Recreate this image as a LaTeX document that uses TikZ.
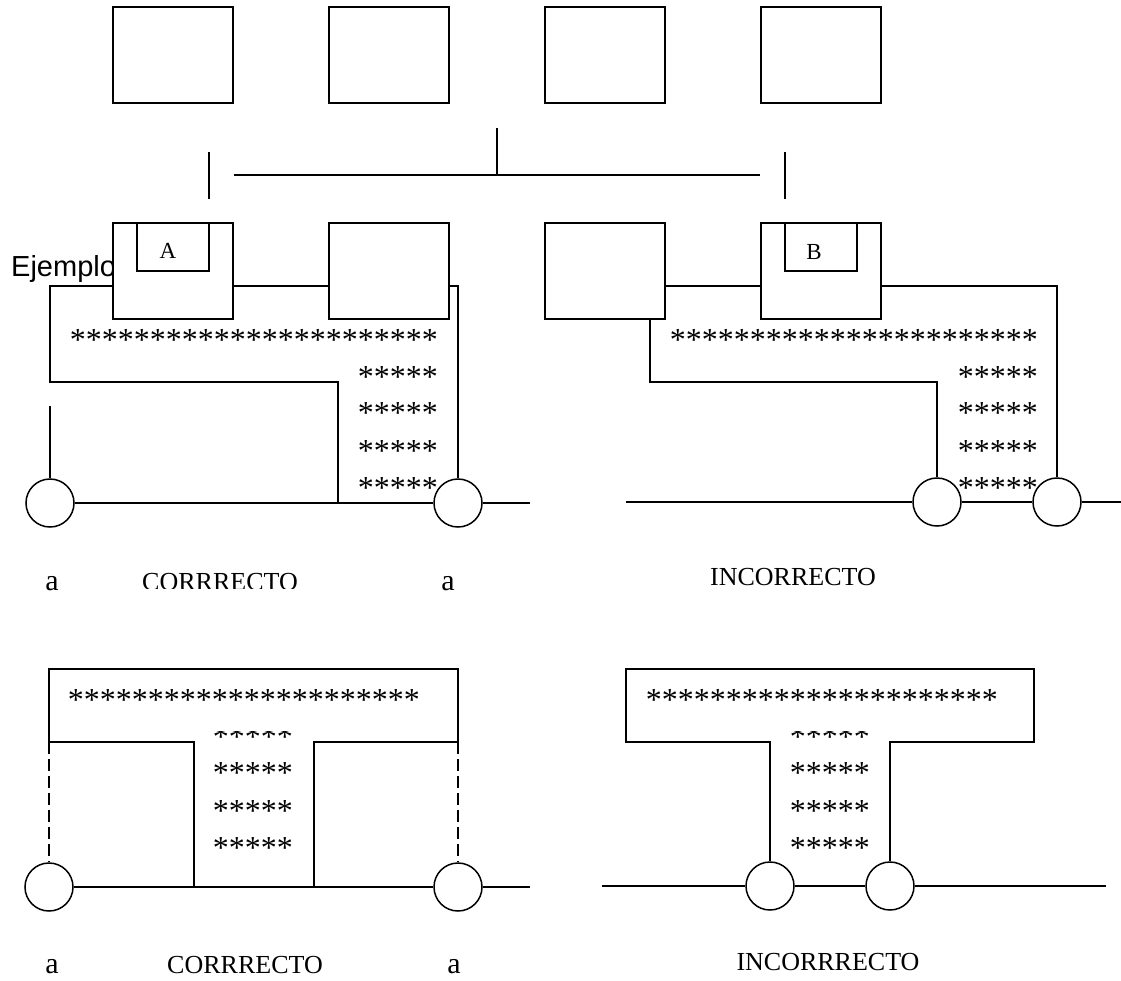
\documentclass[tikz,border=0pt]{standalone}
\usepackage{fontspec}
\setmainfont{Liberation Serif}
\newfontfamily\sansf{Liberation Sans}
\begin{document}
\begin{tikzpicture}[x=1pt,y=-1pt,
  ln/.style={line width=1.5pt},
  bx/.style={draw, fill=white, line width=1.5pt, minimum width=120pt, minimum height=96pt, inner sep=0pt},
  ibx/.style={draw, line width=1.5pt, minimum width=72pt, minimum height=48pt, inner sep=0pt},
  rc/.style={draw, circle, line width=1.5pt, minimum size=48pt, inner sep=0pt},
  lbl/.style={font=\fontsize{26}{30}\selectfont, inner sep=0pt, anchor=base},
  sml/.style={font=\fontsize{30}{34}\selectfont, inner sep=0pt, anchor=base},
  ltr/.style={font=\fontsize{23}{27}\selectfont, inner sep=0pt, anchor=base},
  st/.style={font=\fontsize{32}{36}\selectfont, inner sep=0pt, anchor=base east},
  dsh/.style={line width=1.2pt, dash pattern=on 12pt off 5pt}
]
\useasboundingbox (0,0) rectangle (1121,980);

% ---------- top row ----------
\node[bx] (T1) at (173,55) {};
\node[bx] (T2) at (389,55) {};
\node[bx] (T3) at (605,55) {};
\node[bx] (T4) at (821,55) {};
\coordinate (yh) at (0,175);
\draw[ln] (T1.east |- yh) -- (T4.west |- yh);
\draw[ln] (497,128) -- (497,175);
\draw[ln] (209,152) -- (209,199);
\draw[ln] (785,152) -- (785,199);

% ---------- middle left ----------
\node[font=\sansf\fontsize{29}{33}\selectfont, inner sep=0pt, anchor=base west] (ej) at (11,276) {Ejemplo};
\node[bx] (A) at (173,271) {};
\node[ibx] (Ain) at (173,247) {};
\node[ltr] (Al) at (168,258) {A};
\node[bx] (M2) at (389,271) {};
\coordinate (ya) at (0,286);
\node[rc] (C1) at (50,503) {};
\node[rc] (C2) at (458,503) {};
\draw[ln] (A.west |- ya) -- (50,286) -- (50,382) -- (338,382) -- (338,503);
\draw[ln] (A.east |- ya) -- (M2.west |- ya);
\draw[ln] (M2.east |- ya) -- (C2.north |- ya) -- (C2.north);
\draw[ln] (50,406) -- (C1.north);
\draw[ln] (C1.east) -- (C2.west);
\draw[ln] (C2.east) -- (530,503);
\node[st] (s1) at (438,350) {***********************};
\node[st] (s2) at (438,387) {*****};
\node[st] (s3) at (438,423) {*****};
\node[st] (s4) at (438,461) {*****};
\node[st] (s5) at (438,498) {*****};

% ---------- middle right ----------
\node[bx] (M3) at (605,271) {};
\node[bx] (Bx) at (821,271) {};
\node[ibx] (Bin) at (821,247) {};
\node[ltr] (Bl) at (814,259) {B};
\node[rc] (C3) at (937,502) {};
\node[rc] (C4) at (1057,502) {};
\draw[ln] (M3.east |- ya) -- (Bx.west |- ya);
\draw[ln] (Bx.east |- ya) -- (C4.north |- ya) -- (C4.north);
\draw[ln] (M3.south -| 650,0) -- (650,382) -- (C3.north |- 0,382) -- (C3.north);
\draw[ln] (626,502) -- (C3.west);
\draw[ln] (C3.east) -- (C4.west);
\draw[ln] (C4.east) -- (1121,502);
\node[st] (r1) at (1038,350) {***********************};
\node[st] (r2) at (1038,387) {*****};
\node[st] (r3) at (1038,423) {*****};
\node[st] (r4) at (1038,461) {*****};
\node[st] (r5) at (1038,498) {*****};

% ---------- middle labels ----------
\node[sml] (a1) at (52,590) {a};
\begin{scope}
  \clip (0,540) rectangle (1121,588);
  \node[lbl] (cor1) at (220,590) {CORRRECTO};
\end{scope}
\node[sml] (a2) at (448,590) {a};
\node[lbl] (inc1) at (793,585) {INCORRECTO};

% ---------- bottom left T ----------
\node[rc] (C5) at (49,887) {};
\node[rc] (C6) at (458,887) {};
\draw[ln] (194,887) -- (194,742) -- (49,742) -- (49,669) -- (458,669) -- (458,742) -- (314,742) -- (314,887);
\draw[dsh] (49,742) -- (C5.north);
\draw[dsh] (458,742) -- (C6.north);
\draw[ln] (C5.east) -- (C6.west);
\draw[ln] (C6.east) -- (530,887);
\node[st] (t1) at (420,710) {**********************};
\begin{scope}
  \clip (0,731) rectangle (1121,760);
  \node[st] (t2) at (293,747) {*****};
\end{scope}
\node[st] (t3) at (293,783) {*****};
\node[st] (t4) at (293,821) {*****};
\node[st] (t5) at (293,858) {*****};

% ---------- bottom right T ----------
\node[rc] (C7) at (770,886) {};
\node[rc] (C8) at (890,886) {};
\draw[ln] (C7.north) -- (770,742) -- (626,742) -- (626,669) -- (1034,669) -- (1034,742) -- (890,742) -- (C8.north);
\draw[ln] (602,886) -- (C7.west);
\draw[ln] (C7.east) -- (C8.west);
\draw[ln] (C8.east) -- (1106,886);
\node[st] (u1) at (998,710) {**********************};
\begin{scope}
  \clip (0,731) rectangle (1121,760);
  \node[st] (u2) at (870,747) {*****};
\end{scope}
\node[st] (u3) at (870,783) {*****};
\node[st] (u4) at (870,821) {*****};
\node[st] (u5) at (870,858) {*****};

% ---------- bottom labels ----------
\node[sml] (a3) at (52,973) {a};
\node[lbl] (cor2) at (245,973) {CORRRECTO};
\node[sml] (a4) at (454,973) {a};
\node[lbl] (inc2) at (828,970) {INCORRRECTO};
\end{tikzpicture}
\end{document}
